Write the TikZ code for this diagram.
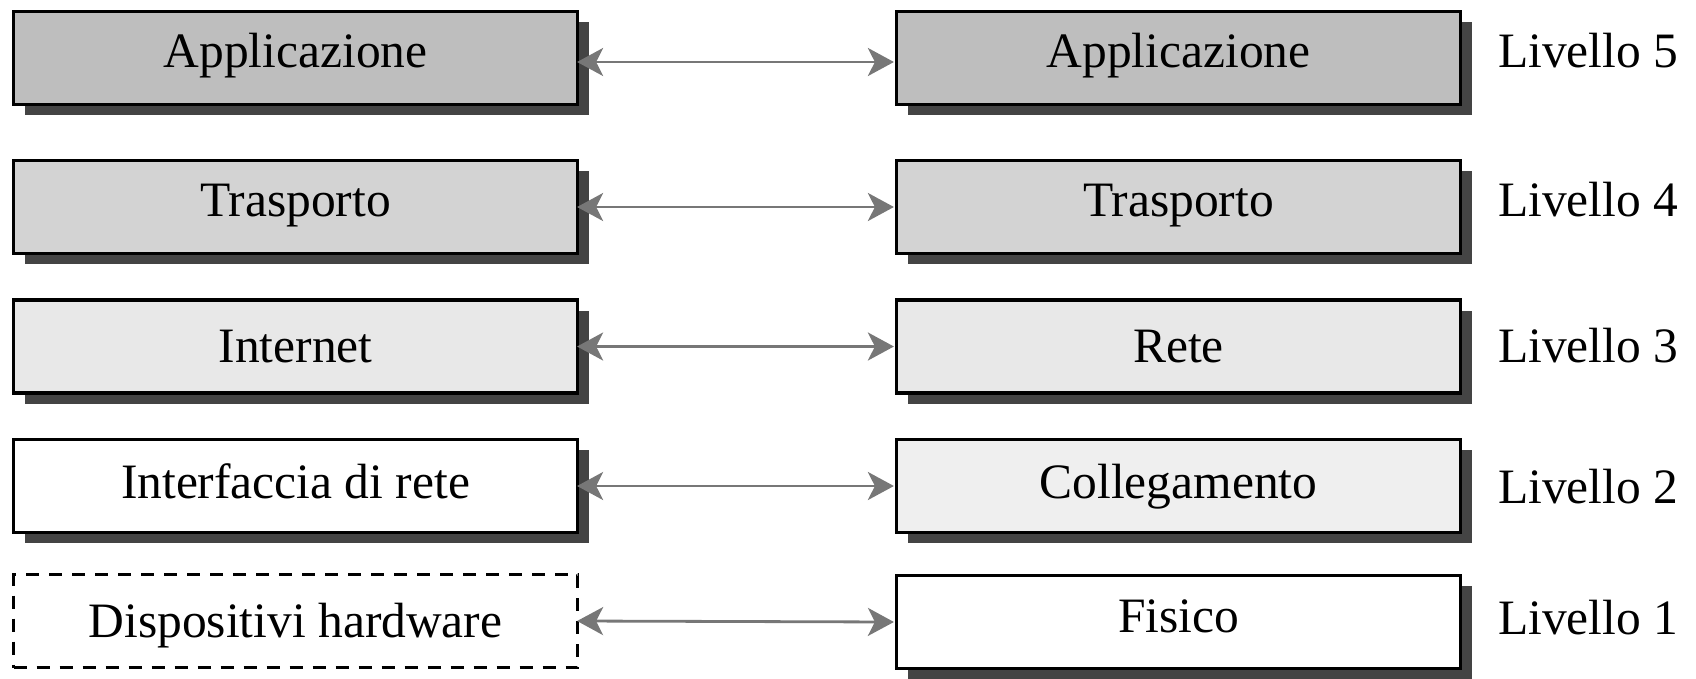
\documentclass[tikz,border=0pt]{standalone}
\usepackage{fontspec}
\setmainfont{Liberation Serif}
\usetikzlibrary{shadows,arrows.meta}
\definecolor{gA}{HTML}{BEBEBE}
\definecolor{gB}{HTML}{D3D3D3}
\definecolor{gC}{HTML}{E8E8E8}
\definecolor{gD}{HTML}{EFEFEF}
\definecolor{shad}{HTML}{444444}
\definecolor{arr}{HTML}{777777}
\begin{document}
\begin{tikzpicture}[x=1pt,y=-1pt,
  txt/.style={font=\fontsize{49.5pt}{60pt}\selectfont},
  plain/.style={txt, draw=black, line width=3.2pt, minimum width=564pt, minimum height=93pt, inner sep=0pt},
  box/.style={plain, drop shadow={shadow xshift=11pt, shadow yshift=-10.5pt, fill=shad, opacity=1}},
  dbox/.style={plain, fill=white, dash pattern=on 13pt off 10pt},
  lvl/.style={txt, anchor=base west, inner sep=0pt},
  conn/.style={draw=arr, line width=2.8pt, {Stealth[length=26pt,width=28pt,inset=7pt]}-{Stealth[length=26pt,width=28pt,inset=7pt]}, shorten <=-2pt, shorten >=1pt}
]
\useasboundingbox (0,0) rectangle (1696,678);
% left column
\node[box, fill=gA, text height=39pt, text depth=21pt] (L5) at (295.5,58) {Applicazione};
\node[box, fill=gB, text height=39pt, text depth=21pt] (L4) at (295.5,207) {Trasporto};
\node[box, fill=gC, text height=45.5pt, text depth=14.5pt] (L3) at (295.5,346.5) {Internet};
\node[box, fill=white, text height=42.5pt, text depth=17.5pt] (L2) at (295.5,486) {Interfaccia di rete};
\node[dbox, text height=46pt, text depth=14pt] (L1) at (295.5,621) {Dispositivi hardware};
% right column
\node[box, fill=gA, text height=39pt, text depth=21pt] (R5) at (1178.5,58) {Applicazione};
\node[box, fill=gB, text height=39pt, text depth=21pt] (R4) at (1178.5,207) {Trasporto};
\node[box, fill=gC, text height=45.5pt, text depth=14.5pt] (R3) at (1178.5,346.5) {Rete};
\node[box, fill=gD, text height=42.5pt, text depth=17.5pt] (R2) at (1178.5,486) {Collegamento};
\node[box, fill=white, text height=40pt, text depth=20pt] (R1) at (1178.5,622) {Fisico};
% level labels
\node[lvl] (V5) at (1498,67) {Livello 5};
\node[lvl] (V4) at (1498,216) {Livello 4};
\node[lvl] (V3) at (1498,362) {Livello 3};
\node[lvl] (V2) at (1498,503) {Livello 2};
\node[lvl] (V1) at (1498,634) {Livello 1};
% connectors
\draw[conn] ([yshift=-4pt]L5.east) -- ([yshift=-4pt]R5.west);
\draw[conn] (L4.east) -- (R4.west);
\draw[conn] (L3.east) -- (R3.west);
\draw[conn] (L2.east) -- (R2.west);
\draw[conn] (L1.east) -- (R1.west);
\end{tikzpicture}
\end{document}
